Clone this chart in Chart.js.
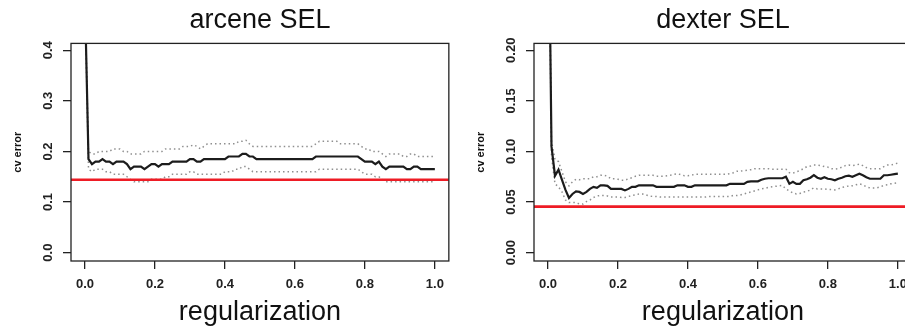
<!DOCTYPE html>
<html>
<head>
<meta charset="utf-8">
<script src="https://cdn.jsdelivr.net/npm/chart.js@4/dist/chart.umd.min.js"></script>
<style>
  html, body { margin:0; padding:0; background:#fff; overflow:hidden; width:905px; height:327px; }
  canvas { position:absolute; top:0; }
  #arcene { left:0; }
  #dexter { left:463px; }
</style>
</head>
<body>
<canvas id="arcene" width="452" height="327"></canvas>
<canvas id="dexter" width="452" height="327"></canvas>
<script>
// regularization grid (same for both panels)
const reg = [0,0.01,0.02,0.03,0.04,0.05,0.06,0.07,0.08,0.09,
  0.1,0.11,0.12,0.13,0.14,0.15,0.16,0.17,0.18,0.19,
  0.2,0.21,0.22,0.23,0.24,0.25,0.26,0.27,0.28,0.29,
  0.3,0.31,0.32,0.33,0.34,0.35,0.36,0.37,0.38,0.39,
  0.4,0.41,0.42,0.43,0.44,0.45,0.46,0.47,0.48,0.49,
  0.5,0.51,0.52,0.53,0.54,0.55,0.56,0.57,0.58,0.59,
  0.6,0.61,0.62,0.63,0.64,0.65,0.66,0.67,0.68,0.69,
  0.7,0.71,0.72,0.73,0.74,0.75,0.76,0.77,0.78,0.79,
  0.8,0.81,0.82,0.83,0.84,0.85,0.86,0.87,0.88,0.89,
  0.9,0.91,0.92,0.93,0.94,0.95,0.96,0.97,0.98,0.99,1];

// arcene: cv error, upper / lower band
const arceneCv = [0.5,0.185,0.175,0.18,0.18,0.185,0.18,0.18,0.175,0.18,
  0.18,0.18,0.175,0.165,0.17,0.17,0.17,0.165,0.17,0.175,
  0.175,0.17,0.175,0.175,0.175,0.18,0.18,0.18,0.18,0.18,
  0.185,0.185,0.18,0.18,0.185,0.185,0.185,0.185,0.185,0.185,
  0.185,0.19,0.19,0.19,0.19,0.195,0.195,0.19,0.19,0.185,
  0.185,0.185,0.185,0.185,0.185,0.185,0.185,0.185,0.185,0.185,
  0.185,0.185,0.185,0.185,0.185,0.185,0.19,0.19,0.19,0.19,
  0.19,0.19,0.19,0.19,0.19,0.19,0.19,0.19,0.19,0.185,
  0.18,0.18,0.18,0.175,0.18,0.17,0.165,0.17,0.17,0.17,
  0.17,0.17,0.165,0.165,0.17,0.17,0.165,0.165,0.165,0.165,0.165];
const arceneUp = [0.5,0.2,0.195,0.195,0.2,0.2,0.2,0.2,0.205,0.205,
  0.205,0.2,0.2,0.195,0.195,0.195,0.195,0.2,0.2,0.2,
  0.2,0.2,0.2,0.205,0.205,0.205,0.205,0.205,0.21,0.21,
  0.21,0.213,0.21,0.205,0.21,0.215,0.215,0.215,0.215,0.215,
  0.215,0.215,0.215,0.215,0.22,0.22,0.222,0.215,0.21,0.21,
  0.21,0.21,0.21,0.21,0.21,0.21,0.21,0.21,0.21,0.21,
  0.21,0.21,0.21,0.21,0.21,0.21,0.215,0.22,0.22,0.22,
  0.22,0.22,0.22,0.215,0.215,0.215,0.215,0.215,0.215,0.21,
  0.205,0.205,0.2,0.2,0.2,0.195,0.19,0.195,0.195,0.195,
  0.195,0.19,0.19,0.195,0.195,0.19,0.19,0.19,0.19,0.19,0.19];
const arceneLo = [0.5,0.165,0.16,0.165,0.165,0.165,0.16,0.16,0.155,0.155,
  0.155,0.155,0.15,0.145,0.14,0.14,0.14,0.14,0.14,0.145,
  0.145,0.145,0.145,0.15,0.15,0.155,0.155,0.155,0.155,0.155,
  0.16,0.16,0.155,0.155,0.155,0.155,0.155,0.155,0.155,0.155,
  0.16,0.16,0.16,0.165,0.165,0.17,0.17,0.165,0.16,0.16,
  0.16,0.16,0.16,0.16,0.16,0.16,0.16,0.16,0.16,0.16,
  0.16,0.16,0.16,0.16,0.16,0.16,0.16,0.165,0.165,0.165,
  0.165,0.165,0.165,0.165,0.165,0.165,0.165,0.165,0.165,0.16,
  0.155,0.155,0.155,0.15,0.15,0.145,0.14,0.14,0.14,0.14,
  0.14,0.14,0.14,0.14,0.14,0.14,0.14,0.14,0.14,0.14,0.14];
const arceneRef = 0.144;

// dexter: cv error, upper / lower band
const dexterCv = [0.4,0.105,0.076,0.082,0.072,0.062,0.054,0.058,0.0605,0.06,
  0.058,0.06,0.063,0.065,0.064,0.0665,0.0665,0.066,0.063,0.063,
  0.063,0.063,0.0615,0.063,0.065,0.065,0.0665,0.0665,0.0665,0.0665,
  0.0665,0.065,0.065,0.065,0.065,0.065,0.065,0.0665,0.0665,0.0665,
  0.065,0.065,0.0665,0.0665,0.0665,0.0665,0.0665,0.0665,0.0665,0.0665,
  0.0665,0.0665,0.068,0.068,0.068,0.068,0.068,0.07,0.0705,0.0705,
  0.0705,0.072,0.073,0.0735,0.0735,0.0735,0.0735,0.0735,0.075,0.068,
  0.07,0.068,0.068,0.0715,0.0725,0.074,0.0765,0.074,0.073,0.0745,
  0.073,0.0725,0.0715,0.073,0.074,0.0755,0.076,0.075,0.0765,0.078,
  0.0765,0.0745,0.073,0.073,0.073,0.073,0.0765,0.0765,0.077,0.0775,0.078];
const dexterUp = [0.4,0.11,0.092,0.09,0.08,0.07,0.066,0.07,0.0725,0.072,
  0.073,0.073,0.073,0.075,0.075,0.0765,0.0765,0.0755,0.073,0.073,
  0.0725,0.0715,0.0715,0.073,0.074,0.0755,0.0765,0.0765,0.0765,0.0765,
  0.0765,0.0755,0.0755,0.0755,0.076,0.0765,0.0775,0.078,0.077,0.076,
  0.076,0.0765,0.0775,0.0775,0.0775,0.0775,0.0775,0.0775,0.0775,0.0775,
  0.0775,0.0775,0.078,0.079,0.0805,0.0805,0.081,0.0815,0.082,0.083,
  0.083,0.083,0.083,0.083,0.0825,0.0825,0.0825,0.0825,0.0825,0.079,
  0.0785,0.08,0.081,0.083,0.085,0.0855,0.0865,0.0865,0.086,0.085,
  0.0845,0.083,0.0825,0.083,0.0845,0.086,0.0865,0.086,0.0865,0.0875,
  0.086,0.084,0.083,0.083,0.083,0.083,0.085,0.0865,0.0865,0.0875,0.0885];
const dexterLo = [0.4,0.095,0.068,0.065,0.06,0.052,0.0495,0.0495,0.0495,0.048,
  0.048,0.0505,0.052,0.0545,0.056,0.0565,0.0565,0.056,0.055,0.055,
  0.055,0.0545,0.0545,0.0555,0.0565,0.057,0.058,0.058,0.057,0.056,
  0.0555,0.0555,0.055,0.055,0.055,0.055,0.055,0.055,0.055,0.055,
  0.055,0.055,0.055,0.055,0.055,0.055,0.0555,0.0555,0.0555,0.0555,
  0.0555,0.0555,0.0555,0.0565,0.0565,0.057,0.058,0.059,0.06,0.061,
  0.062,0.063,0.0635,0.0645,0.065,0.0655,0.066,0.0665,0.063,0.061,
  0.059,0.058,0.0585,0.06,0.0605,0.062,0.064,0.063,0.063,0.063,
  0.0625,0.0625,0.062,0.063,0.0645,0.065,0.066,0.066,0.067,0.068,
  0.067,0.065,0.064,0.064,0.064,0.065,0.0665,0.067,0.068,0.0685,0.069];
const dexterRef = 0.0455;

const xTicks = [0,0.2,0.4,0.6,0.8,1];
const xTickLabels = ['0.0','0.2','0.4','0.6','0.8','1.0'];
const arceneYTicks = [0,0.1,0.2,0.3,0.4];
const arceneYLabels = ['0.0','0.1','0.2','0.3','0.4'];
const dexterYTicks = [0,0.05,0.1,0.15,0.2];
const dexterYLabels = ['0.00','0.05','0.10','0.15','0.20'];

const FONT = "'Liberation Sans', Arial, Helvetica, sans-serif";
const pts = ys => reg.map((x,i)=>({x, y:ys[i]}));

// box around plot region + rotated y tick labels (R style)
const rFrame = {
  id:'rFrame',
  afterDatasetsDraw(chart, args, opts) {
    const {ctx, chartArea:a} = chart, ys = chart.scales.y;
    ctx.save();
    ctx.strokeStyle = '#222'; ctx.lineWidth = 1.3;
    ctx.strokeRect(a.left, a.top, a.right-a.left, a.bottom-a.top);
    ctx.fillStyle = '#222';
    ctx.font = `bold 13px ${FONT}`;
    ctx.textAlign = 'center'; ctx.textBaseline = 'middle';
    opts.ticks.forEach((v,i)=>{
      ctx.save();
      ctx.translate(a.left-23, ys.getPixelForValue(v));
      ctx.rotate(-Math.PI/2);
      ctx.fillText(opts.labels[i], 0, 0);
      ctx.restore();
    });
    ctx.restore();
  }
};

function makePanel(id, title, cv, up, lo, ref, yMin, yMax, yTicks, yLabels) {
  const band = {borderColor:'#8f8f8f', borderWidth:1.5, borderDash:[1.5,3], pointRadius:0, tension:0};
  new Chart(document.getElementById(id), {
    type:'line',
    data:{datasets:[
      {data:[{x:-0.04,y:ref},{x:1.04,y:ref}], borderColor:'#ee1c25', borderWidth:2.6, pointRadius:0},
      {data:pts(cv), borderColor:'#1c1c1c', borderWidth:2.2, pointRadius:0, tension:0},
      {data:pts(up), ...band},
      {data:pts(lo), ...band}
    ]},
    options:{
      responsive:false, animation:false,
      layout:{padding:{left:0, right:2, top:0, bottom:0}},
      plugins:{
        legend:{display:false}, tooltip:{enabled:false},
        title:{display:true, text:title, fullSize:false, color:'#111',
          font:{family:FONT, size:27, weight:'normal', lineHeight:1.2},
          padding:{top:4, bottom:7}},
        rFrame:{ticks:yTicks, labels:yLabels}
      },
      scales:{
        x:{type:'linear', min:-0.04, max:1.04,
          afterBuildTicks:s=>{ s.ticks = xTicks.map(v=>({value:v})); },
          grid:{drawOnChartArea:false, drawTicks:true, tickLength:8, color:'#222', lineWidth:1.3},
          border:{display:false},
          ticks:{padding:8, color:'#222', font:{family:FONT, size:13, weight:'bold'},
            maxRotation:0, callback:(v,i)=>xTickLabels[i]},
          title:{display:true, text:'regularization', color:'#111',
            font:{family:FONT, size:27, weight:'normal', lineHeight:1.2}, padding:{top:-4, bottom:-2}}
        },
        y:{type:'linear', min:yMin, max:yMax,
          afterBuildTicks:s=>{ s.ticks = yTicks.map(v=>({value:v})); },
          grid:{drawOnChartArea:false, drawTicks:true, tickLength:8, color:'#222', lineWidth:1.3},
          border:{display:false},
          ticks:{display:false},
          title:{display:true, text:'cv error', color:'#111',
            font:{family:FONT, size:11, weight:'bold', lineHeight:1.2}, padding:{top:11.4, bottom:38.4}}
        }
      }
    },
    plugins:[rFrame]
  });
}

makePanel('arcene','arcene SEL', arceneCv, arceneUp, arceneLo, arceneRef, -0.0165, 0.4135, arceneYTicks, arceneYLabels);
makePanel('dexter','dexter SEL', dexterCv, dexterUp, dexterLo, dexterRef, -0.00825, 0.20675, dexterYTicks, dexterYLabels);
</script>
</body>
</html>
